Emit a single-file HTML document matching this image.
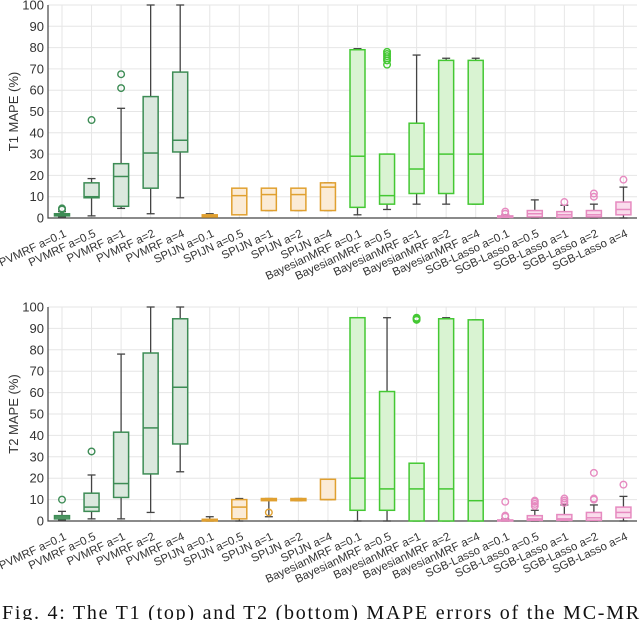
<!DOCTYPE html>
<html><head><meta charset="utf-8"><style>
body{margin:0;background:#fff;width:640px;height:620px;overflow:hidden}
svg{display:block;font-family:"Liberation Sans",sans-serif}
</style></head><body>
<svg id="chart" width="640" height="620"></svg>
<script>
const categories=["PVMRF a=0.1","PVMRF a=0.5","PVMRF a=1","PVMRF a=2","PVMRF a=4","SPIJN a=0.1","SPIJN a=0.5","SPIJN a=1","SPIJN a=2","SPIJN a=4","BayesianMRF a=0.1","BayesianMRF a=0.5","BayesianMRF a=1","BayesianMRF a=2","BayesianMRF a=4","SGB-Lasso a=0.1","SGB-Lasso a=0.5","SGB-Lasso a=1","SGB-Lasso a=2","SGB-Lasso a=4"];
const groups=[0,0,0,0,0,1,1,1,1,1,2,2,2,2,2,3,3,3,3,3];
const yTicks=[0,10,20,30,40,50,60,70,80,90,100];
// [lowWhisker,q1,median,q3,highWhisker]
const t1Stats=[[0.5,1,1.5,2,3],[1,9.5,10,16.5,18.5],[4.5,5.5,19.5,25.5,51.5],[2,14,30.5,57,100],[9.5,31,36.5,68.5,100],
[0.5,0.5,1,1.5,2],[1.5,1.5,10.5,14,14],[3.5,3.5,11,14,14],[3.5,3.5,11,14,14],[3.5,3.5,14.5,16.5,16.5],
[1.5,5,29,79,79.5],[4,6.5,10.5,30,30],[6.5,11.5,23,44.5,76.5],[6.5,11.5,30,74,75],[6.5,6.5,30,74,75],
[0,0.3,0.7,1,1.5],[0,0.5,2,3.5,8.5],[0,0.3,1.5,3,6],[0,0.5,1.5,3.5,6.5],[0,1.5,4,7.5,14.5]];
const t1Outliers=[[4,4.5],[46],[61,67.5],[],[],[],[],[],[],[],[],[72,74,75,76,77,78],[],[],[],[2,3],[],[7.5],[10,11.5],[18]];
const t2Stats=[[0.5,1,1.8,2.5,4.5],[1,4.5,6.5,13,21.5],[1,11,17.5,41.5,78],[4,22,43.5,78.5,100],[23,36,62.5,94.5,100],
[0,0,0.3,0.8,2],[0,1,6.5,10,10.5],[2,9.5,10,10.5,10.5],[9.5,9.5,10,10.5,10.5],[10,10,10,19.5,19.5],
[0,5,20,95,95],[0,5,15,60.5,95],[0,0,15,27,27],[0,0,15,94.5,95],[0,0,9.5,94,94],
[0,0,0.3,0.5,1],[0,0.3,1,2.5,5],[0,0.3,1,3,7.5],[0,0.3,1.5,4,7.5],[0,1.5,4,6.5,11.5]];
const t2Outliers=[[10],[32.5],[],[],[],[],[],[4],[],[],[],[],[94,94.5,95],[],[],[2,2.5,9],[7,8,9,9.5],[8.5,9.5,10.5],[10,10.5,22.5],[17]];

const strokeC=["#3d8c55","#e0a030","#44c833","#e68ac0"];
const fillC=["#dbe8de","#fbebd6","#d9f3d2","#fadcec"];
const NS="http://www.w3.org/2000/svg";
const svg=document.getElementById('chart');
function mk(tag,attrs,parent){const e=document.createElementNS(NS,tag);for(const k in attrs)e.setAttribute(k,attrs[k]);(parent||svg).appendChild(e);return e;}
const L=48,R=637;
function xPos(i){return 62+i*29.55;}

function panel(top,bottom,stats,outs,title,pname){
  const g=mk('g',{});
  
  
  const y=v=>bottom-(v/100)*(bottom-top);
  yTicks.forEach(t=>{
    const gl=mk('line',{x1:L,x2:R,y1:y(t),y2:y(t),stroke:'#e6e6e6','stroke-width':1},g);
    
    
    const tl=mk('text',{x:L-4,y:y(t)+4.5,'text-anchor':'end','font-size':13,fill:'#333'},g);
    tl.textContent=t;
    
    
  });
  categories.forEach((c,i)=>{
    const gl=mk('line',{x1:xPos(i),x2:xPos(i),y1:top,y2:bottom,stroke:'#e6e6e6','stroke-width':1},g);
    
    
  });
  const ax=mk('path',{d:`M${L},${top} V${bottom} H${R}`,stroke:'#444',fill:'none','stroke-width':1.2},g);
  
  
  const yt=mk('text',{x:0,y:0,'text-anchor':'middle','font-size':13,fill:'#333',transform:`translate(18,${(top+bottom)/2}) rotate(-90)`},g);
  yt.textContent=title;
  
  
  stats.forEach((s,i)=>{
    const cx=xPos(i),gi=groups[i],hw=7.5;
    const bg=mk('g',{},g);
    
    
    mk('line',{x1:cx,x2:cx,y1:y(s[0]),y2:y(s[1]),stroke:'#444','stroke-width':1.3},bg);
    mk('line',{x1:cx,x2:cx,y1:y(s[3]),y2:y(s[4]),stroke:'#444','stroke-width':1.3},bg);
    mk('line',{x1:cx-4,x2:cx+4,y1:y(s[0]),y2:y(s[0]),stroke:'#444','stroke-width':1.3},bg);
    mk('line',{x1:cx-4,x2:cx+4,y1:y(s[4]),y2:y(s[4]),stroke:'#444','stroke-width':1.3},bg);
    mk('rect',{x:cx-hw,y:y(s[3]),width:2*hw,height:Math.max(1,y(s[1])-y(s[3])),fill:fillC[gi],stroke:strokeC[gi],'stroke-width':1.5},bg);
    mk('line',{x1:cx-hw,x2:cx+hw,y1:y(s[2]),y2:y(s[2]),stroke:strokeC[gi],'stroke-width':1.5},bg);
    outs[i].forEach(o=>{
      const c=mk('circle',{cx:cx,cy:y(o),r:3.3,fill:'none',stroke:strokeC[gi],'stroke-width':1.4},bg);
      
      
    });
    const lbl=mk('text',{x:0,y:0,'text-anchor':'end','font-size':11.5,fill:'#333',transform:`translate(${cx+5},${bottom+18}) rotate(-25)`},g);
    lbl.textContent=categories[i];
    
    
  });
}
panel(5,218,t1Stats,t1Outliers,'T1 MAPE (%)','t1-panel');
panel(307,521,t2Stats,t2Outliers,'T2 MAPE (%)','t2-panel');
const cap=mk('text',{x:2,y:619,'font-size':20,fill:'#111','font-family':'Liberation Serif, serif','textLength':650,'lengthAdjust':'spacing'});
cap.textContent='Fig. 4: The T1 (top) and T2 (bottom) MAPE errors of the MC-MRF';


</script>
</body></html>
